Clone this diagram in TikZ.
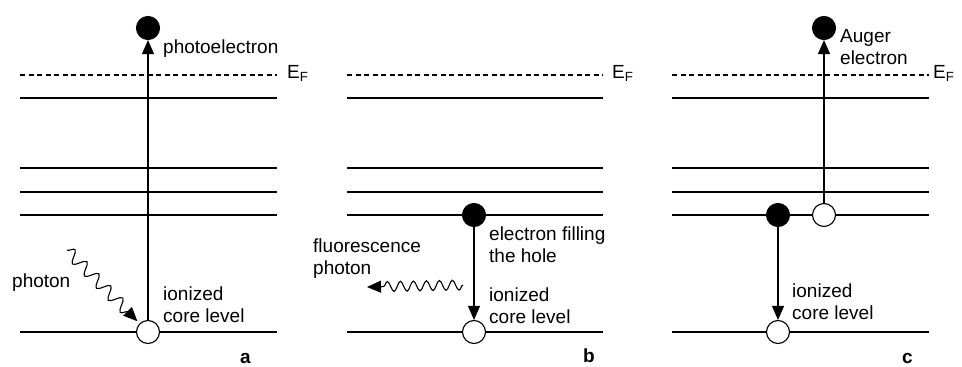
\documentclass[tikz,border=0pt]{standalone}
\usepackage{fontspec}
\setmainfont{Liberation Sans}
\usetikzlibrary{arrows.meta,decorations.pathmorphing}

\begin{document}
\begin{tikzpicture}[x=1pt, y=-1pt, line cap=butt, line join=miter]
% Auger / fluorescence scheme, three panels
\providecommand{\levelLineWidth}{1.1pt}
\providecommand{\dotSize}{23pt}
\providecommand{\labelFont}{\fontsize{19}{22}\selectfont}
\tikzset{
  level/.style={draw=black, line width=\levelLineWidth},
  fermi/.style={level, dash pattern=on 5pt off 3.5pt},
  electron/.style={circle, draw=black, fill=black, line width=\levelLineWidth, minimum size=\dotSize, inner sep=0pt},
  hole/.style={circle, draw=black, fill=white, line width=\levelLineWidth, minimum size=\dotSize, inner sep=0pt},
  jump/.style={line width=\levelLineWidth, -{Triangle[length=14pt,width=12pt]}},
  wave/.style={line width=\levelLineWidth, -{Triangle[length=14pt,width=12pt]}, decorate},
  txt/.style={anchor=base west, inner sep=0pt, align=left, font=\labelFont},
  panel/.style={anchor=base west, inner sep=0pt, font=\labelFont\bfseries}
}
\useasboundingbox (0,0) rectangle (962,367);
% Panel a
\begin{scope}
  \draw[fermi] (20,75) -- (277,75);
  \draw[level] (20,98) -- (277,98);
  \draw[level] (20,168) -- (277,168);
  \draw[level] (20,192) -- (277,192);
  \draw[level] (20,215) -- (277,215);
  \draw[level] (20,332) -- (277,332);
  \node[txt] (aFermi) at (287,78) {E\textsubscript{F}};
  \node[electron] (aTop) at (148,28) {};
  \node[hole] (aCore) at (148,332) {};
  \coordinate (aPhotonSrc) at (67,250);
  \draw[jump] (aCore) -- (aTop);
  \draw[wave, decoration={snake, amplitude=6pt, segment length=17pt, post length=14pt}, shorten >=3pt] (aPhotonSrc) -- (aCore);
  \node[txt] (aPhotoel) at (163,53) {photoelectron};
  \node[txt] (aIonized) at (163,322) {ionized\\core level};
  \node[txt] (aPhoton) at (12,287) {photon};
  \node[panel] (aLabel) at (240,363) {a};
\end{scope}
% Panel b
\begin{scope}
  \draw[fermi] (347,75) -- (603,75);
  \draw[level] (347,98) -- (603,98);
  \draw[level] (347,168) -- (603,168);
  \draw[level] (347,192) -- (603,192);
  \draw[level] (347,215) -- (603,215);
  \draw[level] (347,332) -- (603,332);
  \node[txt] (bFermi) at (612,78) {E\textsubscript{F}};
  \node[electron] (bFill) at (474,215) {};
  \node[hole] (bCore) at (474,332) {};
  \coordinate (bWaveStart) at (463,285);
  \coordinate (bWaveEnd) at (367,287);
  \draw[jump] (bFill) -- (bCore);
  \draw[wave, decoration={snake, amplitude=5pt, segment length=13pt, post length=14pt}] (bWaveStart) -- (bWaveEnd);
  \node[txt] (bFilling) at (489,262) {electron filling\\the hole};
  \node[txt] (bIonized) at (489,323) {ionized\\core level};
  \node[txt] (bFluor) at (313,274) {fluorescence\\photon};
  \node[panel] (bLabel) at (583,362) {b};
\end{scope}
% Panel c
\begin{scope}
  \draw[fermi] (672,75) -- (929,75);
  \draw[level] (672,98) -- (929,98);
  \draw[level] (672,168) -- (929,168);
  \draw[level] (672,192) -- (929,192);
  \draw[level] (672,215) -- (929,215);
  \draw[level] (672,332) -- (929,332);
  \node[txt] (cFermi) at (933,78) {E\textsubscript{F}};
  \node[electron] (cFill) at (778,215) {};
  \node[hole] (cHole) at (824,215) {};
  \node[electron] (cTop) at (824,28) {};
  \node[hole] (cCore) at (778,332) {};
  \draw[jump] (cHole) -- (cTop);
  \draw[jump] (cFill) -- (cCore);
  \node[txt] (cAuger) at (840,64) {Auger\\electron};
  \node[txt] (cIonized) at (792,319) {ionized\\core level};
  \node[panel] (cLabel) at (902,363) {c};
\end{scope}
\end{tikzpicture}
\end{document}
